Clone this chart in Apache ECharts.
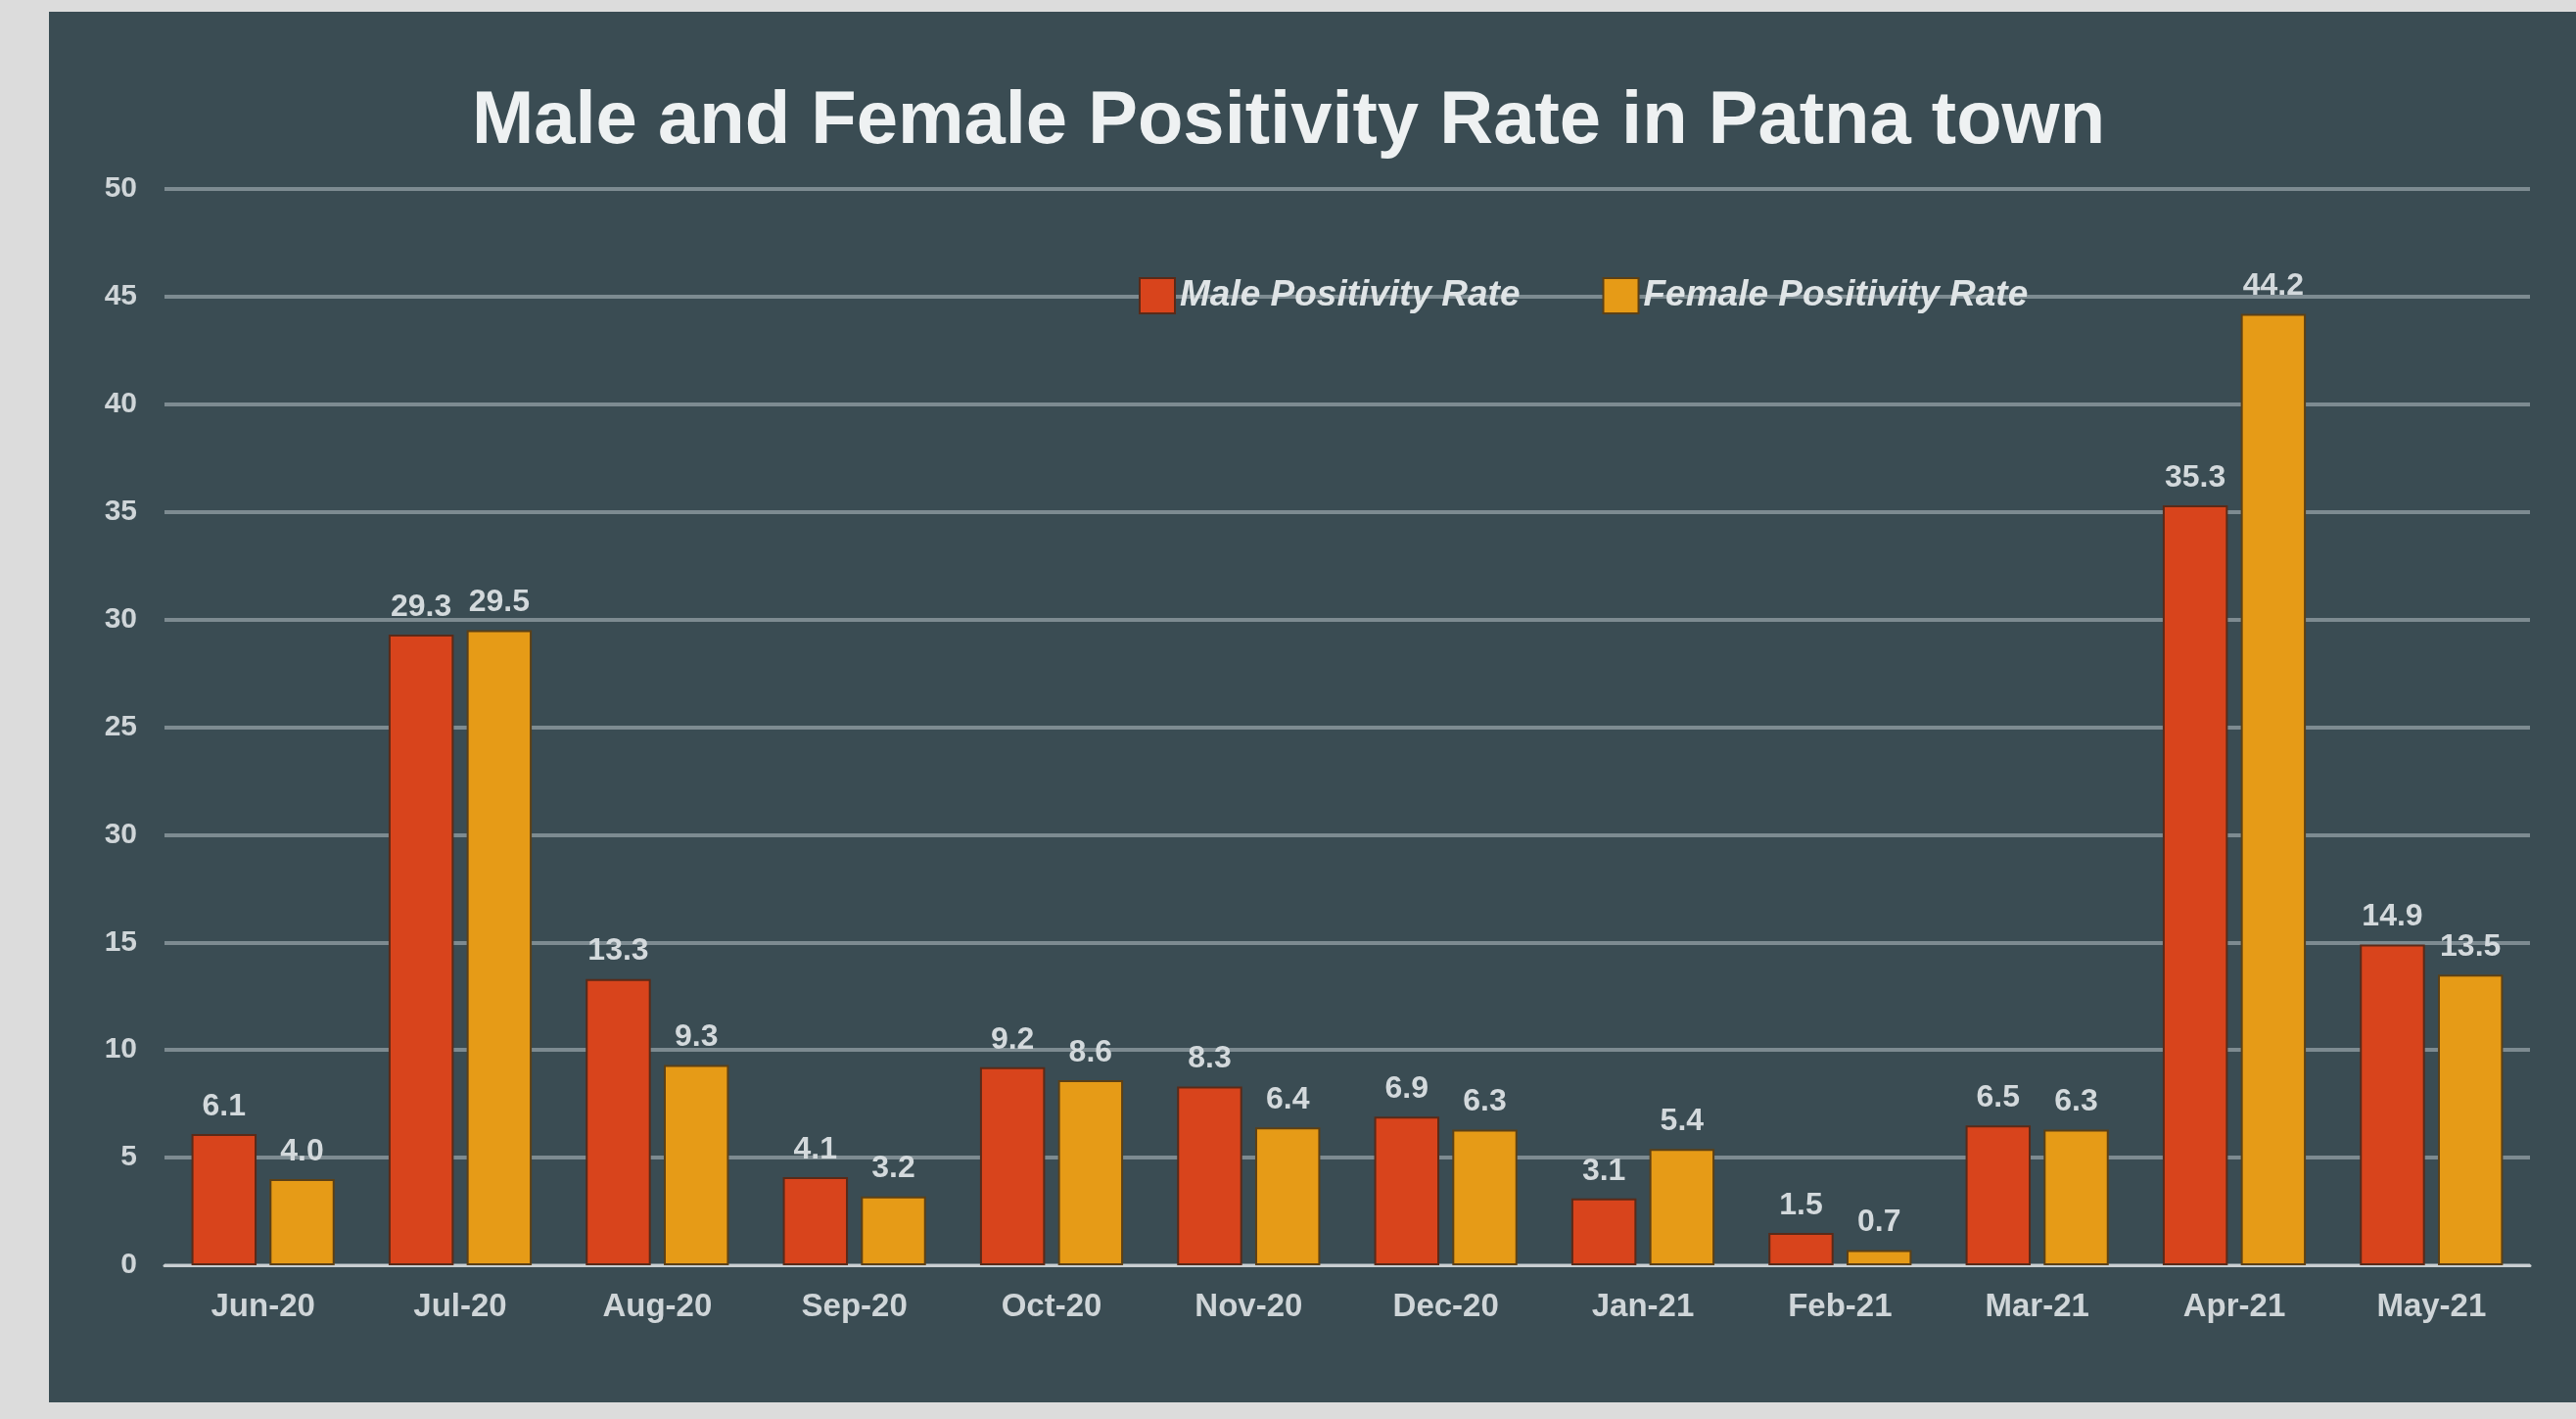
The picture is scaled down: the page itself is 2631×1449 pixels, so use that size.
<!DOCTYPE html>
<html>
<head>
<meta charset="utf-8">
<script src="https://cdn.jsdelivr.net/npm/echarts@6/dist/echarts.min.js"></script>
<style>
html,body{margin:0;padding:0;width:2631px;height:1449px;background:#dcdcdc;overflow:hidden;}
#chart{position:absolute;left:50px;top:12px;width:2581px;height:1420px;background:#3a4c53;}
</style>
</head>
<body>
<div id="chart"></div>
<script>
const categories = ['Jun-20','Jul-20','Aug-20','Sep-20','Oct-20','Nov-20','Dec-20','Jan-21','Feb-21','Mar-21','Apr-21','May-21'];
const maleRate = [6.1, 29.3, 13.3, 4.1, 9.2, 8.3, 6.9, 3.1, 1.5, 6.5, 35.3, 14.9];
const femaleRate = [4.0, 29.5, 9.3, 3.2, 8.6, 6.4, 6.3, 5.4, 0.7, 6.3, 44.2, 13.5];
const yTickLabels = ['0','5','10','15','30','25','30','35','40','45','50'];

const chart = echarts.init(document.getElementById('chart'), null, {renderer:'canvas'});
const labelStyle = {show:true, position:'top', distance:12, color:'#d3d9dc', fontSize:32, fontWeight:'bold', fontFamily:'Liberation Sans', formatter: p => p.value.toFixed(1)};
chart.setOption({
  backgroundColor:'#3a4c53',
  title:{
    text:'Male and Female Positivity Rate in Patna town',
    left:1261, top:70, textAlign:'center',
    textStyle:{color:'#eef1f2', fontSize:76, fontWeight:'bold', fontFamily:'Liberation Sans'}
  },
  legend:{
    left:1108, top:266,
    itemWidth:36, itemHeight:36, itemGap:84, icon:'rect',
    textStyle:{color:'#dfe4e6', fontSize:37, fontWeight:'bold', fontStyle:'italic', fontFamily:'Liberation Sans'}
  },
  grid:{left:118, right:47, top:181, bottom:140},
  xAxis:{
    type:'category', data:categories,
    axisLine:{lineStyle:{color:'#c9cfd2', width:3}},
    axisTick:{show:false},
    axisLabel:{color:'#cfd5d8', fontSize:33, fontWeight:'bold', fontFamily:'Liberation Sans', margin:26}
  },
  yAxis:{
    type:'value', min:0, max:50, interval:5,
    axisLine:{show:false}, axisTick:{show:false},
    splitLine:{lineStyle:{color:'#7d8b91', width:4}},
    axisLabel:{color:'#cfd5d8', fontSize:30, fontWeight:'bold', fontFamily:'Liberation Sans', margin:28,
      formatter:(v)=> yTickLabels[Math.round(v/5)]}
  },
  series:[
    {name:'Male Positivity Rate', type:'bar', data:maleRate, barWidth:'33%', barGap:'20%',
     itemStyle:{color:'#d8441c', borderColor:'#5a2a18', borderWidth:2}, label:labelStyle},
    {name:'Female Positivity Rate', type:'bar', data:femaleRate, barWidth:'33%',
     itemStyle:{color:'#e69b17', borderColor:'#5c4016', borderWidth:2}, label:labelStyle}
  ]
});
</script>
</body>
</html>
